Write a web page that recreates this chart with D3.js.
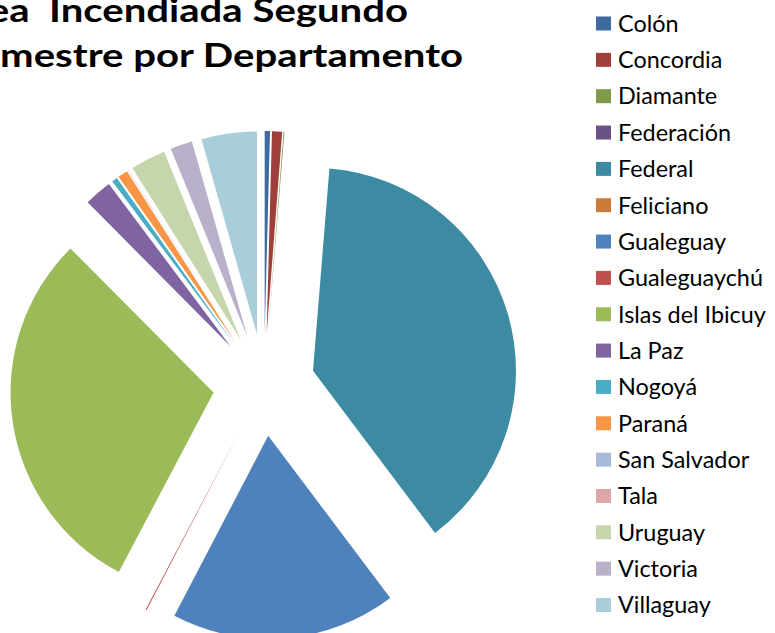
<!DOCTYPE html>
<html>
<head>
<meta charset="utf-8">
<script src="https://cdn.jsdelivr.net/npm/d3@7"></script>
<style>
  body { margin: 0; background: #fff; }
  svg { display: block; }
  .title { font-family: Lato, "Open Sans", sans-serif; font-weight: bold; font-size: 33px; fill: #000; white-space: pre; }
  .legend text { font-family: Lato, "Open Sans", sans-serif; font-size: 23px; fill: #000; }
</style>
</head>
<body>
<svg id="chart"></svg>
<script>
// area incendiada (% del total) por departamento
var departamentos = ["Colón", "Concordia", "Diamante", "Federación", "Federal", "Feliciano",
  "Gualeguay", "Gualeguaychú", "Islas del Ibicuy", "La Paz", "Nogoyá", "Paraná",
  "San Salvador", "Tala", "Uruguay", "Victoria", "Villaguay"];
var areas = [0.42, 0.8, 0.07, 0, 38.4, 0, 17.9, 0.08, 29.8, 2.2, 0.45, 0.8, 0.03, 0, 2.8, 1.75, 4.4];
var colores = ["#3F6A9E", "#9E3F3C", "#7F9A48", "#6A5287", "#3D8BA3", "#CC7B38",
  "#4F81BD", "#C0504D", "#9BBB59", "#8064A2", "#4BACC6", "#F79646",
  "#A9B9D9", "#DBA8A7", "#C6D6AC", "#BAB0CA", "#A8CEDB"];
var titulo = ["Área  Incendiada Segundo", "Semestre por Departamento"];

var width = 775, height = 633;
var svg = d3.select("#chart").attr("width", width).attr("height", height);

var cx = 264, cy = 385, radius = 203, explode = 51;

var pie = d3.pie().sort(null).value(function(d) { return d; }).startAngle(0).endAngle(2 * Math.PI);
var arc = d3.arc().innerRadius(0).outerRadius(radius);
var color = d3.scaleOrdinal().domain(departamentos).range(colores);

var g = svg.append("g").attr("transform", "translate(" + cx + "," + cy + ")");

g.selectAll("path.slice")
  .data(pie(areas))
  .enter().append("path")
  .attr("class", "slice")
  .attr("d", arc)
  .attr("fill", function(d, i) { return color(departamentos[i]); })
  .attr("transform", function(d) {
    var mid = (d.startAngle + d.endAngle) / 2;
    return "translate(" + (explode * Math.sin(mid)) + "," + (-explode * Math.cos(mid)) + ")";
  });

// title runs off the left edge like the original: line 2 ends at x=463, "Se" hidden
var tg = svg.append("g");
var t1 = tg.append("text").attr("class", "title").attr("y", 22)
  .attr("text-anchor", "end").text(titulo[0]);
var t2 = tg.append("text").attr("class", "title").attr("x", 0).attr("y", 67)
  .attr("text-anchor", "end").text(titulo[1]);
var n2 = titulo[1].length;
var sx = 463 / t2.node().getSubStringLength(2, n2 - 2);
t1.attr("x", (408 - 463) / sx);
tg.attr("transform", "translate(463,0) scale(" + sx + ",1)");

// legend
var ly = d3.scalePoint().domain(departamentos).range([23.5, 605]);
var legend = svg.append("g").attr("class", "legend");
var item = legend.selectAll("g").data(departamentos).enter().append("g")
  .attr("transform", function(d) { return "translate(596," + ly(d) + ")"; });
item.append("rect").attr("x", 0).attr("y", -7).attr("width", 15).attr("height", 14)
  .attr("fill", function(d) { return color(d); });
var labels = item.append("text").attr("y", 0).attr("dy", "0.36em").text(function(d) { return d; });
var wMax = d3.max(labels.nodes(), function(n) { return n.getComputedTextLength(); });
var lx = 148 / wMax;
labels.attr("transform", "translate(22,0) scale(" + lx + ",1)");
</script>
</body>
</html>
